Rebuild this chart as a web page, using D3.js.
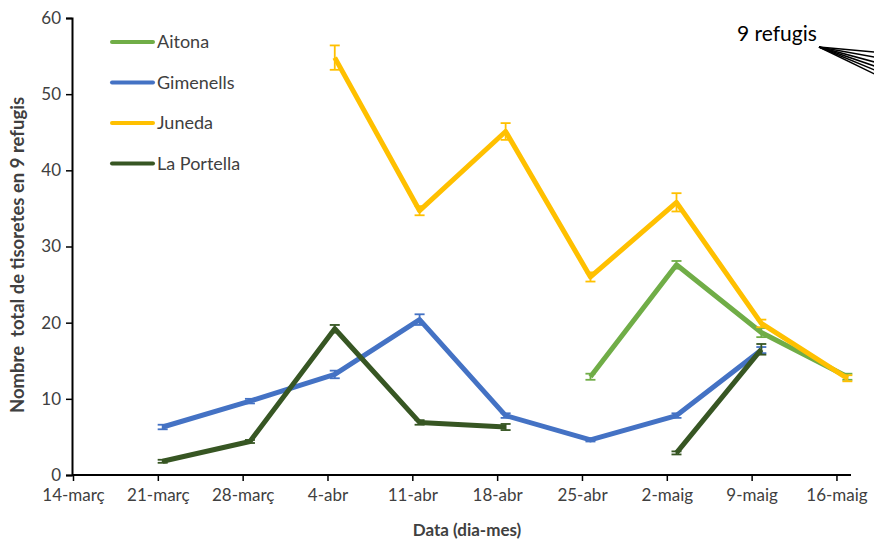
<!DOCTYPE html>
<html><head><meta charset="utf-8">
<script src="https://cdn.jsdelivr.net/npm/d3@7"></script>
<style>body{margin:0;background:#fff}svg{display:block}</style>
</head><body>
<svg id="c" width="874" height="545"></svg>
<script>
// ---- data ----
const tickLabels = ["14-març","21-març","28-març","4-abr","11-abr","18-abr","25-abr","2-maig","9-maig","16-maig"];
const tickDays   = [0,7,14,21,28,35,42,49,56,63];
const sampleDays = [0,7.4,14.6,21.6,28.6,35.7,42.7,49.8,56.8,63.9];
const seriesNames = ["Aitona","Gimenells","Juneda","La Portella"];
const aitona      = [null,null,null,null,null,null,12.9,27.6,18.7,12.9];
const aitonaErr   = [null,null,null,null,null,null,0.4,0.5,0.6,0.4];
const gimenells   = [null,6.3,9.7,13.2,20.4,7.8,4.6,7.8,16.4,null];
const gimenellsErr= [null,0.3,0.3,0.5,0.7,0.3,0.2,0.3,0.4,null];
const juneda      = [null,null,null,54.8,34.7,45.1,26.0,35.8,19.9,12.7];
const junedaErr   = [null,null,null,1.6,0.6,1.1,0.6,1.2,0.5,0.4];
const portella    = [null,1.8,4.4,19.2,6.9,6.3,null,2.9,16.5,null];
const portellaErr = [null,0.2,0.2,0.5,0.3,0.4,null,0.2,0.7,null];
const yTicks = [0,10,20,30,40,50,60];

const colors = ["#70AD47","#4472C4","#FFC000","#375623"];
const values = [aitona,gimenells,juneda,portella];
const errs = [aitonaErr,gimenellsErr,junedaErr,portellaErr];

const svg = d3.select("#c");
const x = d3.scaleLinear().domain([0,64.2]).range([73,851]);
const y = d3.scaleLinear().domain([0,60]).range([475,18]);
const font = "Lato, 'Open Sans', sans-serif";

// axes
const xAxis = svg.append("g").attr("transform","translate(0,475)")
  .call(d3.axisBottom(x).tickValues(tickDays).tickFormat((d,i)=>tickLabels[i]).tickSizeOuter(0).tickSize(6).tickPadding(8));
xAxis.select(".domain").attr("stroke","#000").attr("stroke-width",2).attr("d","M72,0H851");
xAxis.selectAll(".tick line").attr("stroke","#000").attr("stroke-width",1.5);
xAxis.selectAll(".tick text").attr("font-family",font).attr("font-size",17).attr("fill","#404040");

const yAxis = svg.append("g").attr("transform","translate(72,0)")
  .call(d3.axisLeft(y).tickValues(yTicks).tickSizeOuter(0).tickSize(6).tickPadding(5));
yAxis.select(".domain").attr("stroke","#000").attr("stroke-width",2);
yAxis.selectAll(".tick line").attr("stroke","#000").attr("stroke-width",1.5);
yAxis.selectAll(".tick text").attr("font-family",font).attr("font-size",17).attr("fill","#404040");

// series
const line = d3.line().defined(d=>d.v!=null).x(d=>x(d.x)).y(d=>y(d.v));
values.forEach((vals,si)=>{
  const pts = vals.map((v,i)=>({x:sampleDays[i],v,e:errs[si][i]}));
  const g = svg.append("g");
  g.append("path").datum(pts).attr("d",line).attr("fill","none")
    .attr("stroke",colors[si]).attr("stroke-width",5).attr("stroke-linejoin","round");
  const eb = pts.filter(d=>d.v!=null && d.e!=null);
  g.selectAll("line.eb").data(eb).join("line")
    .attr("x1",d=>x(d.x)).attr("x2",d=>x(d.x))
    .attr("y1",d=>y(d.v-d.e)).attr("y2",d=>y(d.v+d.e))
    .attr("stroke",colors[si]).attr("stroke-width",1.8);
  ["top","bot"].forEach(k=>{
    g.selectAll("line.c"+k).data(eb).join("line")
      .attr("x1",d=>x(d.x)-5).attr("x2",d=>x(d.x)+5)
      .attr("y1",d=>y(k==="top"?d.v+d.e:d.v-d.e)).attr("y2",d=>y(k==="top"?d.v+d.e:d.v-d.e))
      .attr("stroke",colors[si]).attr("stroke-width",1.8);
  });
});

// legend
const leg = svg.append("g");
seriesNames.forEach((n,i)=>{
  const ly = 42 + i*40.5;
  leg.append("line").attr("x1",112).attr("x2",153).attr("y1",ly).attr("y2",ly)
    .attr("stroke",colors[i]).attr("stroke-width",4).attr("stroke-linecap","round");
  leg.append("text").attr("x",157).attr("y",ly).attr("dy","0.35em")
    .attr("font-family",font).attr("font-size",18).attr("fill","#404040").text(n);
});

// axis titles
svg.append("text").attr("x",467).attr("y",536).attr("text-anchor","middle")
  .attr("font-family",font).attr("font-weight","bold").attr("font-size",17).attr("fill","#404040")
  .text("Data (dia-mes)");
svg.append("text").attr("transform","translate(24,255) rotate(-90)").attr("text-anchor","middle")
  .attr("font-family",font).attr("font-weight","bold").attr("font-size",18.5).attr("fill","#404040")
  .attr("xml:space","preserve").text("Nombre  total de tisoretes en 9 refugis");

// annotation
svg.append("text").attr("x",737).attr("y",41).attr("font-family",font).attr("font-size",21).attr("fill","#000").text("9 refugis");
[52,57,62,66,70,74].forEach(ey=>{
  svg.append("line").attr("x1",819).attr("y1",47).attr("x2",880).attr("y2",ey+ (ey-47)*0.1)
    .attr("stroke","#000").attr("stroke-width",1.5);
});
</script>
</body></html>
